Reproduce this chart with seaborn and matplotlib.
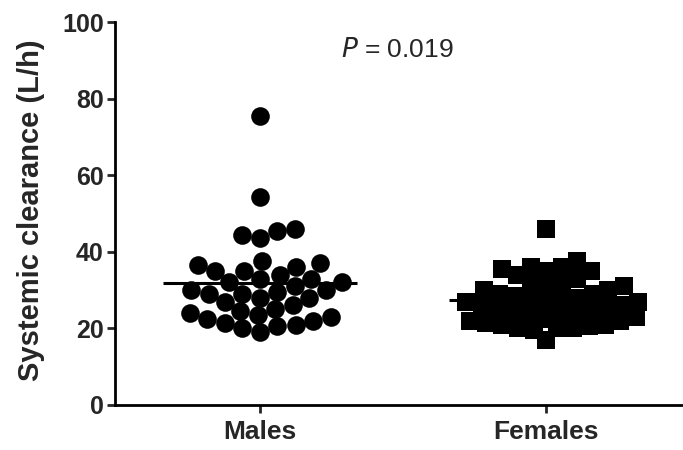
import numpy as np
import pandas as pd
import matplotlib
matplotlib.use("Agg")
import matplotlib.pyplot as plt
import seaborn as sns

groups = ["Males", "Females"]
males = [75.4, 54.3, 46, 45.5, 44.5, 43.5, 37.5, 37, 36.5, 36, 35, 35, 34, 33, 33,
         32, 32, 31, 30, 30, 29.5, 29, 29, 28, 28, 27, 26, 25, 24.5, 24, 23.5, 23,
         22.5, 22, 21.5, 21, 20.5, 20, 19]
females = [46, 37.5, 36, 36, 35.5, 35, 35, 34, 33, 32, 32, 31, 31, 30, 30, 29, 29,
           28.5, 28, 28, 27.5, 27, 27, 26.5, 26, 26, 25.5, 25, 25, 24.5, 24, 24,
           23.5, 23, 22.5, 22, 22, 21.5, 21, 21, 20.5, 20, 20, 20, 19.5, 17]
p_text = "= 0.019"

df = pd.DataFrame({
    "group": ["Males"] * len(males) + ["Females"] * len(females),
    "value": males + females,
})

sns.set_style("white")
plt.rcParams['font.family'] = ['Liberation Sans', 'DejaVu Sans']

fig = plt.figure(figsize=(6.83, 4.5), dpi=100)
ax = fig.add_axes([0.168, 0.1, 0.83, 0.851])

ax.set_xlim(-0.509, 1.474)
ax.set_ylim(0, 100)

sns.swarmplot(data=df[df.group == "Males"], x="group", y="value", order=groups,
              color="black", marker="o", size=12.5, ax=ax, linewidth=0)
sns.swarmplot(data=df[df.group == "Females"], x="group", y="value", order=groups,
              color="black", marker="s", size=11.0, ax=ax, linewidth=0)
ax.set_xlim(-0.509, 1.474)
ax.set_ylim(0, 100)
fig.canvas.draw()
for coll in ax.collections:
    if "draw" in coll.__dict__:
        del coll.draw
    coll.set_sizes([180])

for i, vals in enumerate([males, females]):
    m = np.mean(vals)
    ax.hlines(m, i - 0.34, i + 0.34, color="black", lw=2.2, zorder=5)

ax.set_yticks([0, 20, 40, 60, 80, 100])
ax.set_xlabel("")
ax.set_ylabel("Systemic clearance (L/h)", fontsize=21, fontweight="bold")
ax.yaxis.set_label_coords(-0.123, 0.51)
for sp in ["top", "right"]:
    ax.spines[sp].set_visible(False)
for sp in ["left", "bottom"]:
    ax.spines[sp].set_linewidth(2)
    ax.spines[sp].set_color("black")
ax.tick_params(axis="y", length=6, width=2, labelsize=18, left=True, pad=2)
ax.tick_params(axis="x", length=6, width=2, labelsize=19, bottom=True, pad=5)
for lab in ax.get_yticklabels() + ax.get_xticklabels():
    lab.set_fontweight("bold")

ax.text(0.48, 92.7, r"$\it{P}$ " + p_text, ha="center", va="center", fontsize=19)

fig.savefig("out.png", dpi=100)
